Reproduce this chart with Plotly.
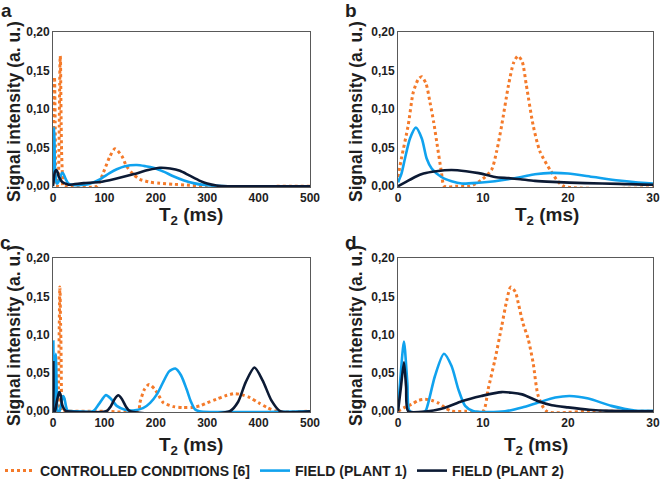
import plotly.graph_objects as go

# ---------------- data ----------------
# Sample set 1 (panels a and b)
cc1_t = [0, 0.4, 1.2, 1.8, 2.4, 2.8, 3.3, 3.76, 4.2, 4.55, 5.1, 5.45, 7.0, 8.5, 9.8, 11.0, 11.6, 12.2, 13.0,
         13.6, 14.1, 14.6, 15.1, 15.9, 16.7, 17.9, 18.7, 19.5, 40, 85, 98, 111, 120.6, 134, 143, 156, 169, 189,
         208, 235, 260, 299, 500]
cc1_s = [0.012, 0.036, 0.079, 0.122, 0.139, 0.142, 0.133, 0.109, 0.083, 0.058, 0.019, 0.0, 0.0, 0.0, 0.008,
         0.021, 0.045, 0.079, 0.131, 0.16, 0.169, 0.162, 0.131, 0.079, 0.045, 0.021, 0.008, 0.0, 0.0, 0.0,
         0.0177, 0.039, 0.0486, 0.039, 0.026, 0.0155, 0.009, 0.0052, 0.004, 0.0025, 0.0015, 0.0, 0.0]

p11_t = [0, 0.4, 0.82, 1.41, 2.1, 2.8, 3.37, 3.96, 5.1, 6.3, 7.5, 9.5, 11.4, 14.5, 16.1, 18.1, 20, 23, 26, 30,
         40, 55, 70, 91, 110, 124, 140, 163, 180, 195, 215, 234, 255, 273, 295, 318, 340, 500]
p11_s = [0.005, 0.016, 0.036, 0.062, 0.076, 0.062, 0.036, 0.023, 0.012, 0.0065, 0.0035, 0.0045, 0.0065, 0.012,
         0.0155, 0.0173, 0.0165, 0.012, 0.0075, 0.0035, 0.0015, 0.0015, 0.003, 0.009, 0.017, 0.022, 0.026,
         0.0275, 0.026, 0.024, 0.019, 0.013, 0.0075, 0.004, 0.0015, 0.0005, 0.0, 0.0]

p21_t = [0, 1, 2, 3, 4.5, 6.3, 8, 9.5, 11.4, 13, 14.4, 16.1, 18.2, 22, 26, 30, 40, 60, 91, 120, 156, 185,
         208, 228, 247, 265, 286, 300, 318, 340, 500]
p21_s = [0.0, 0.006, 0.012, 0.0165, 0.0195, 0.021, 0.0195, 0.017, 0.012, 0.0105, 0.009, 0.007, 0.0056, 0.004,
         0.003, 0.002, 0.0025, 0.004, 0.0055, 0.0095, 0.0155, 0.021, 0.024, 0.023, 0.02, 0.014, 0.007, 0.0035,
         0.001, 0.0, 0.0]

# Sample set 2 (panels c and d)
cc2_t = [0, 0.8, 1.6, 2.4, 3.2, 4.0, 4.7, 5.5, 6.3, 8.0, 10.0, 10.6, 11.4, 12.2, 12.8, 13.25, 13.8, 14.15,
         14.7, 15.3, 15.9, 16.5, 17.5, 22.7, 100, 166, 169, 178, 187, 198, 208, 215, 235, 253, 270, 286, 300,
         318, 335, 354, 370, 383, 400, 416, 435, 500]
cc2_s = [0.0, 0.005, 0.009, 0.014, 0.0156, 0.014, 0.011, 0.005, 0.0, 0.0, 0.0, 0.0286, 0.067, 0.111, 0.145,
         0.162, 0.156, 0.141, 0.115, 0.095, 0.063, 0.02, 0.0, 0.0, 0.0, 0.0, 0.011, 0.0286, 0.035, 0.0286,
         0.0178, 0.011, 0.006, 0.0048, 0.005, 0.007, 0.011, 0.0156, 0.02, 0.023, 0.021, 0.0178, 0.011, 0.005,
         0.0, 0.0]

p12_t = [0, 0.24, 0.7, 1.1, 1.4, 3.2, 3.56, 4.35, 5.4, 6.3, 7.1, 7.9, 8.9, 12.6, 14.6, 16.5, 18.5, 20.2, 22.4,
         25.1, 27.9, 30, 40, 78, 90, 103, 113, 124, 140, 156, 175, 189, 203, 215, 226, 238, 249, 260, 268,
         276, 285, 500]
p12_s = [0.002, 0.037, 0.091, 0.037, 0.0, 0.0, 0.011, 0.046, 0.075, 0.059, 0.0286, 0.007, 0.0, 0.0, 0.0048,
         0.0113, 0.0178, 0.0199, 0.0165, 0.007, 0.001, 0.0005, 0.0, 0.0, 0.01, 0.021, 0.016, 0.007, 0.002,
         0.001, 0.004, 0.011, 0.023, 0.039, 0.052, 0.0558, 0.047, 0.0286, 0.013, 0.0026, 0.0, 0.0]

p22_t = [0, 0.35, 0.7, 0.95, 1.2, 3.5, 5, 6, 7.5, 9.8, 12.2, 14.6, 16.5, 18.1, 20, 22.5, 25, 28, 104, 112,
         120, 127, 134, 142, 150, 344, 360, 375, 392, 408, 425, 442, 500]
p22_s = [0.0, 0.032, 0.064, 0.032, 0.0, 0.0, 0.003, 0.0065, 0.013, 0.0199, 0.025, 0.022, 0.013, 0.0078, 0.005,
         0.002, 0.0005, 0.0, 0.0, 0.006, 0.016, 0.0208, 0.016, 0.006, 0.0, 0.0, 0.012, 0.038, 0.057, 0.04,
         0.014, 0.0, 0.0]

series_names = ["CONTROLLED CONDITIONS [6]", "FIELD (PLANT 1)", "FIELD (PLANT 2)"]
y_ticks = [0, 0.05, 0.10, 0.15, 0.20]
x_range_full = [0, 500]
x_range_zoom = [0, 30]
panel_labels = ["a", "b", "c", "d"]

# ---------------- styles ----------------
ORANGE = "#F47A2A"
BLUE = "#10A2EE"
DARK = "#0C1A34"
FONT = "Liberation Sans"
TXT = "#1E1E1E"
W, H = 661, 487
B = 30            # bottom margin holding the legend
HP = H - B        # height of the paper area

fig = go.Figure()

sets = [
    [(cc1_t, cc1_s), (p11_t, p11_s), (p21_t, p21_s)],
    [(cc2_t, cc2_s), (p12_t, p12_s), (p22_t, p22_s)],
]
styles = [dict(color=ORANGE, width=3, dash="dot"),
          dict(color=BLUE, width=2.6),
          dict(color=DARK, width=2.6)]

panels = [(0, ""), (0, "2"), (1, "3"), (1, "4")]
for pi, (si, ax) in enumerate(panels):
    for k, (t, s) in enumerate(sets[si]):
        fig.add_trace(go.Scatter(
            x=t, y=s, mode="lines", name=series_names[k],
            line=dict(shape="spline", smoothing=0.7, **styles[k]),
            xaxis="x" + ax, yaxis="y" + ax,
            showlegend=(pi == 0), hoverinfo="skip"))

def px_x(p):
    return p / W

def px_y(p):
    return 1 - p / HP

xdom_l = [px_x(53), px_x(310)]
xdom_r = [px_x(398), px_x(653)]
ydom_t = [px_y(187), px_y(32)]
ydom_b = [px_y(412), px_y(258)]

axis_common = dict(showline=True, linecolor="#595959", linewidth=1, mirror=True,
                   showgrid=False, zeroline=False, ticks="",
                   tickfont=dict(family=FONT, size=12, color=TXT, weight="bold"))

layout = dict(width=W, height=H, margin=dict(l=0, r=0, t=0, b=B, autoexpand=False),
              paper_bgcolor="white", plot_bgcolor="white", separators=",.",
              showlegend=True, hovermode=False,
              legend=dict(orientation="h", x=0, xanchor="left", y=px_y(471), yanchor="middle",
                          font=dict(family=FONT, size=14, color=TXT, weight="bold"),
                          tracegroupgap=0, bgcolor="rgba(0,0,0,0)"))

doms = [(xdom_l, ydom_t, x_range_full, 100), (xdom_r, ydom_t, x_range_zoom, 10),
        (xdom_l, ydom_b, x_range_full, 100), (xdom_r, ydom_b, x_range_zoom, 10)]
for i, (xd, yd, xr, dt) in enumerate(doms):
    suf = "" if i == 0 else str(i + 1)
    layout["xaxis" + suf] = dict(domain=xd, range=xr, dtick=dt, tick0=0, anchor="y" + suf, **axis_common)
    layout["yaxis" + suf] = dict(domain=yd, range=[-0.001, 0.2], tickvals=y_ticks, tickformat=".2f",
                                 anchor="x" + suf, **axis_common)

fig.update_layout(**layout)

ann = []
letter_pos = [(6, 10), (351, 10), (5, 242), (351, 242)]
for lab, (x, y) in zip(panel_labels, letter_pos):
    ann.append(dict(text=lab, x=px_x(x), y=px_y(y), xref="paper", yref="paper", showarrow=False,
                    xanchor="center", yanchor="middle",
                    font=dict(family=FONT, size=19, color=TXT, weight="bold")))
ytitle_pos = [(14, 112), (356, 112), (14, 336), (356, 336)]
for (x, y) in ytitle_pos:
    ann.append(dict(text="Signal intensity (a. u.)", x=px_x(x), y=px_y(y), xref="paper", yref="paper",
                    showarrow=False, textangle=-90, xanchor="center", yanchor="middle",
                    font=dict(family=FONT, size=17.5, color=TXT, weight="bold")))
xtitle_pos = [(191, 216), (547, 216), (191, 446), (536, 446)]
for (x, y) in xtitle_pos:
    ann.append(dict(text="T<sub>2</sub> (ms)", x=px_x(x), y=px_y(y), xref="paper", yref="paper",
                    showarrow=False, xanchor="center", yanchor="middle",
                    font=dict(family=FONT, size=19, color=TXT, weight="bold")))
fig.update_layout(annotations=ann)

fig.write_html("out.html", config={"displayModeBar": False},
               post_script="document.body.style.margin='0';")
